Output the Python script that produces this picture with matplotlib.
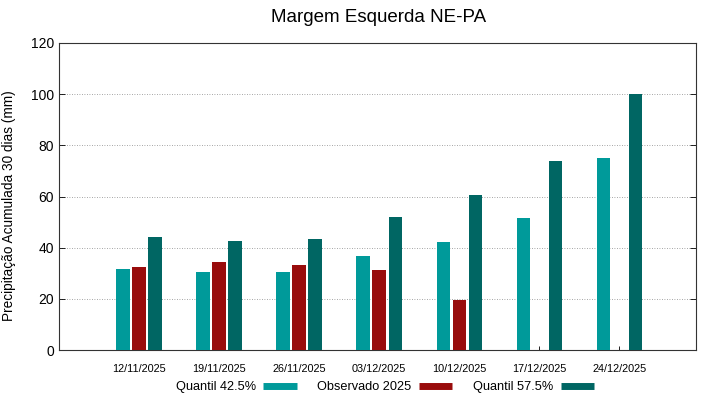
import numpy as np
import matplotlib
matplotlib.use("Agg")
import matplotlib.pyplot as plt
from matplotlib.lines import Line2D
from matplotlib.transforms import ScaledTranslation

plt.rcParams['font.family'] = ['Liberation Sans', 'DejaVu Sans']

# dados
datas = ['12/11/2025', '19/11/2025', '26/11/2025', '03/12/2025',
         '10/12/2025', '17/12/2025', '24/12/2025']
q425 = [31.7, 30.4, 30.4, 36.6, 42.2, 51.6, 75.1]
obs2025 = [32.3, 34.4, 33.2, 31.4, 19.5, np.nan, np.nan]
q575 = [44.2, 42.6, 43.5, 51.9, 60.7, 73.9, 100.0]

cor_q425 = '#009a9a'
cor_obs = '#990c0c'
cor_q575 = '#006663'

fig = plt.figure(figsize=(7.19, 3.99), dpi=100)
ax = fig.add_axes([59/719, 49/399, 637/719, 307/399])

x = np.arange(len(datas))
w = 0.165
ax.bar(x - 0.2, q425, w, color=cor_q425, zorder=3)
ax.bar(x, obs2025, w, color=cor_obs, zorder=3)
ax.bar(x + 0.2, q575, w, color=cor_q575, zorder=3)

ax.set_xlim(-1.0, 6.96)
ax.set_ylim(0, 120)
ax.set_yticks(range(0, 121, 20))
ax.set_xticks(x)
ax.set_xticklabels(datas, fontsize=7.8)
for lbl in ax.get_xticklabels():
    lbl.set_transform(lbl.get_transform() + ScaledTranslation(7/100, 0, fig.dpi_scale_trans))
ax.tick_params(axis='y', labelsize=10, direction='in', length=4, right=True, width=0.6)
ax.tick_params(axis='x', direction='in', length=3, width=0.6, pad=10)
ax.grid(axis='y', linestyle=(0, (1, 2)), color='#888888', linewidth=0.6, zorder=0)
for s in ax.spines.values():
    s.set_linewidth(0.8)
    s.set_color('#333333')

ax.set_ylabel('Precipitação Acumulada 30 dias (mm)', fontsize=9.8, labelpad=8)
ax.yaxis.set_label_coords(-0.068, 0.47)
fig.text(0.526, 0.957, 'Margem Esquerda NE-PA', ha='center', va='center', fontsize=13.5)

handles = [Line2D([], [], color=cor_q425, lw=5, solid_capstyle='butt'),
           Line2D([], [], color=cor_obs, lw=5, solid_capstyle='butt'),
           Line2D([], [], color=cor_q575, lw=5, solid_capstyle='butt')]
fig.legend(handles, ['Quantil 42.5%', 'Observado 2025', 'Quantil 57.5%'],
           loc='center', bbox_to_anchor=(0.535, 0.03), ncol=3, frameon=False,
           markerfirst=False, fontsize=9.2, handlelength=2.6,
           columnspacing=1.6, handletextpad=0.6)

fig.savefig('out.png', dpi=100)
